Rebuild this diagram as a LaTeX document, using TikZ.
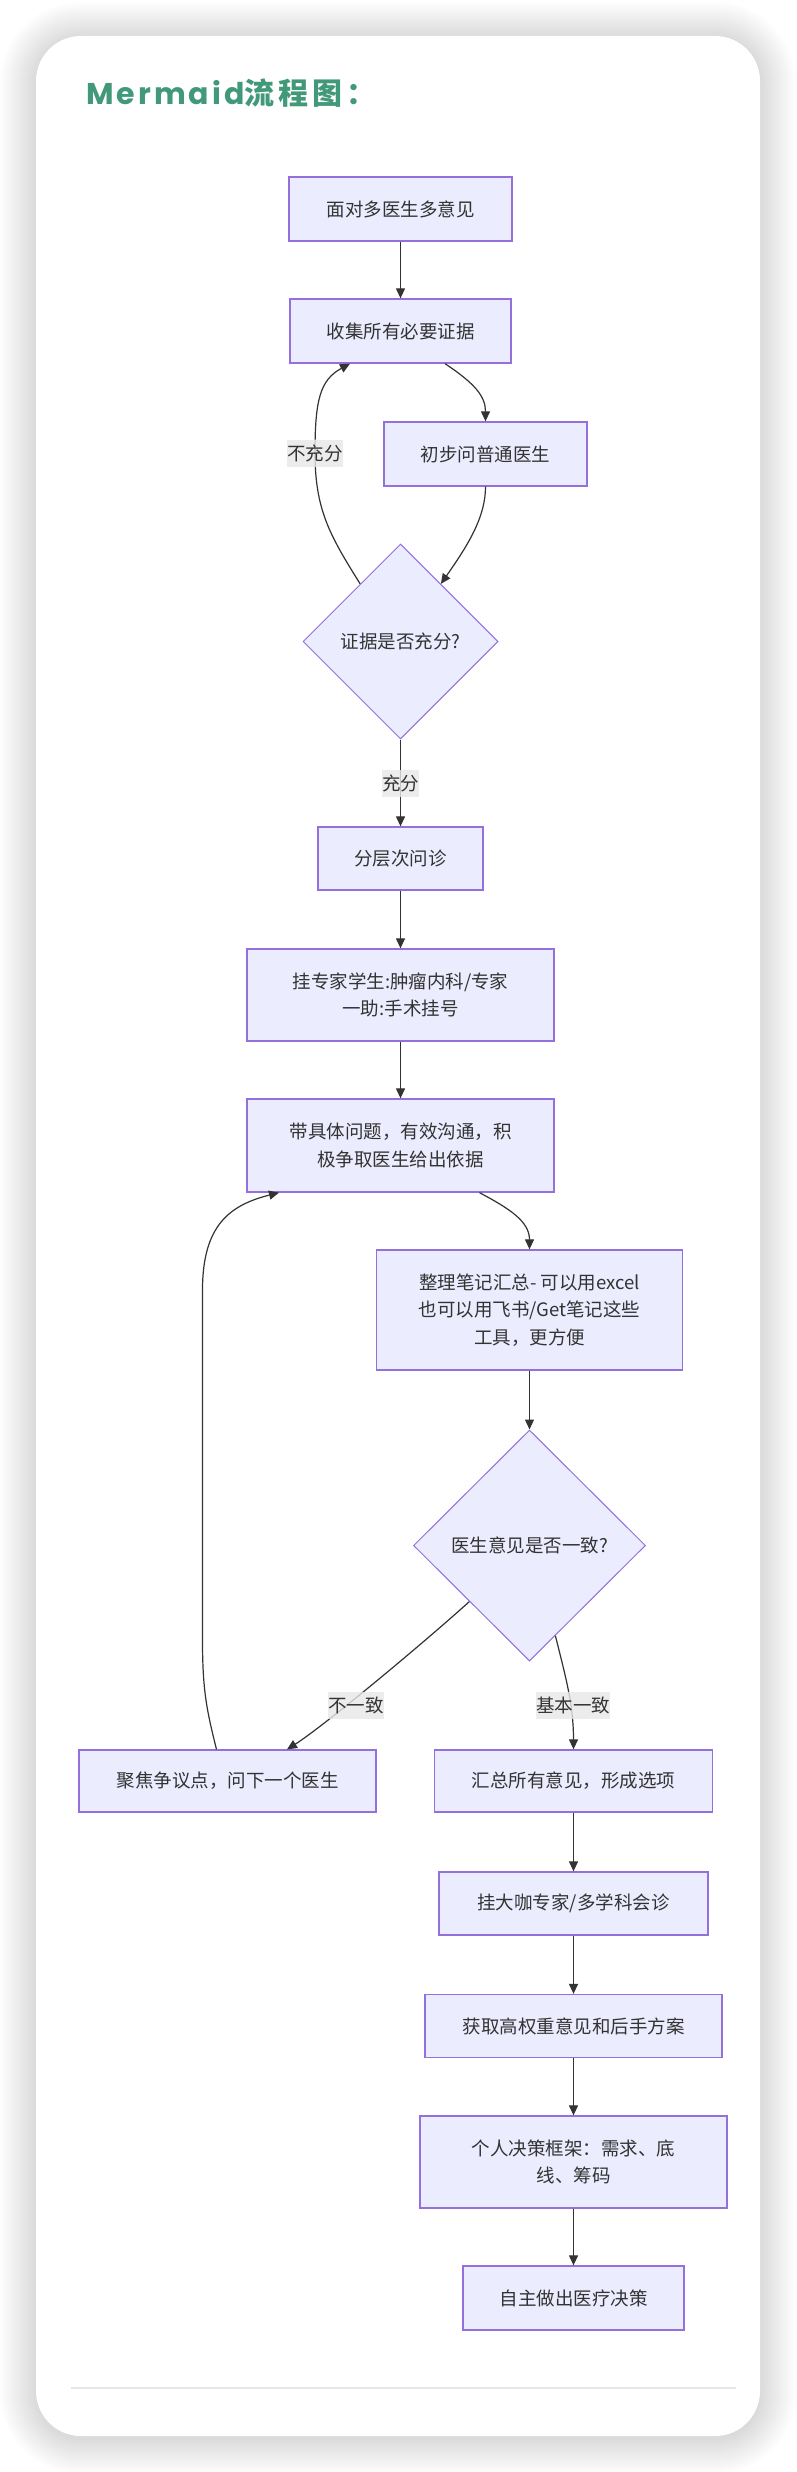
\documentclass[tikz,border=0pt]{standalone}
\usepackage{fontspec}
\setmainfont{Noto Sans CJK SC}
\newfontfamily\poppins{Poppins}
\usetikzlibrary{shapes.geometric, arrows.meta}
\definecolor{mfill}{HTML}{ECECFF}
\definecolor{mborder}{HTML}{9370DB}
\definecolor{mtext}{HTML}{333333}
\definecolor{medge}{HTML}{333333}
\definecolor{mlabel}{HTML}{E8E8E8}
\definecolor{mtitle}{RGB}{66,153,122}
\definecolor{mrule}{HTML}{E6E6E6}
\tikzset{
  box/.style={draw=mborder, fill=mfill, line width=1.3pt, text=mtext, align=center, inner sep=0pt, font=\fontsize{18.5}{27.7}\selectfont},
  dia/.style={box, diamond, aspect=1, line width=1pt},
  lbl/.style={fill=mlabel, fill opacity=0.8, text opacity=1, text=mtext, inner xsep=0pt, inner ysep=0pt, minimum height=27pt, font=\fontsize{18.5}{27.7}\selectfont},
  conn/.style={draw=medge, line width=1.2pt, -{Triangle[length=10pt,width=9pt]}},
}
\begin{document}
\begin{tikzpicture}[x=1pt, y=-1pt]
  \useasboundingbox (0,0) rectangle (796,2472);
  \fill[white] (0,0) rectangle (796,2472);
  % shadow
  \foreach \i in {1,...,18} {
    \pgfmathsetmacro\s{2*\i}
    \pgfmathsetmacro\r{45+2*\i}
    \fill[black, opacity=0.009, rounded corners={\r pt}] (36-\s, 36-\s+2) rectangle (760+\s, 2436+\s+2);
  }
  % card
  \fill[white, rounded corners=45pt] (36,36) rectangle (760,2436);
  \draw[mrule, line width=2pt] (71,2388) -- (736,2388);
  % title
  \node[anchor=base west, text=mtitle, font=\fontsize{30}{32}\selectfont\bfseries, inner sep=0pt] (title) at (86,105) {{\poppins\bfseries\addfontfeatures{LetterSpace=10}Mermaid}{\addfontfeatures{LetterSpace=14}流程图：}};
  % nodes
  \node[box, minimum width=223pt, minimum height=64pt] (n1) at (400.5,209) {面对多医生多意见};
  \node[box, minimum width=221pt, minimum height=64pt] (n2) at (400.5,331) {收集所有必要证据};
  \node[box, minimum width=203pt, minimum height=64pt] (n3) at (485.5,454) {初步问普通医生};
  \node[dia, minimum width=195pt, minimum height=195pt] (d1) at (400.5,641.5) {证据是否充分?};
  \node[box, minimum width=165pt, minimum height=63pt] (n4) at (400.5,858.5) {分层次问诊};
  \node[box, minimum width=307pt, minimum height=92pt] (n5) at (400.5,995) {挂专家学生:肿瘤内科/专家\\一助:手术挂号};
  \node[box, minimum width=307pt, minimum height=93pt] (n6) at (400.5,1145.5) {带具体问题，有效沟通，积\\极争取医生给出依据};
  \node[box, minimum width=306pt, minimum height=120pt] (n7) at (529.5,1310) {整理笔记汇总- 可以用excel\\也可以用飞书/Get笔记这些\\工具，更方便};
  \node[dia, minimum width=232pt, minimum height=231pt] (d2) at (529.5,1545.5) {医生意见是否一致?};
  \node[box, minimum width=297pt, minimum height=62pt] (n8) at (227.5,1781) {聚焦争议点，问下一个医生};
  \node[box, minimum width=278pt, minimum height=62pt] (n9) at (573.5,1781) {汇总所有意见，形成选项};
  \node[box, minimum width=269pt, minimum height=63pt] (n10) at (573.5,1903.5) {挂大咖专家/多学科会诊};
  \node[box, minimum width=297pt, minimum height=63pt] (n11) at (573.5,2026) {获取高权重意见和后手方案};
  \node[box, minimum width=307pt, minimum height=92pt] (n12) at (573.5,2162) {个人决策框架：需求、底\\线、筹码};
  \node[box, minimum width=221pt, minimum height=64pt] (n13) at (573.5,2298) {自主做出医疗决策};
  % edges
  \draw[conn] (n1) -- (n2);
  \draw[conn] ([xshift=44.5pt]n2.south) .. controls +(30,20) and +(0,-25) .. (n3.north);
  \draw[conn] (n3.south) .. controls +(0,30) and +(28,-40) .. (d1.55);
  \draw[conn] (d1.125) .. controls +(-30,-48) and (315,510) .. (315,453) .. controls (315,400) and (320,380) .. ([xshift=-50.5pt]n2.south);
  \draw[conn] (d1) -- (n4);
  \draw[conn] (n4) -- (n5);
  \draw[conn] (n5) -- (n6);
  \draw[conn] ([xshift=79pt]n6.south) .. controls +(30,16) and +(0,-28) .. (n7.north);
  \draw[conn] (n7) -- (d2);
  \draw[conn] (d2.223) .. controls +(-50,45) and +(35,-22) .. ([xshift=59.5pt]n8.north);
  \draw[conn] (d2.286) .. controls +(10,40) and +(0,-45) .. (n9.north);
  \draw[conn] ([xshift=-11pt]n8.north) .. controls +(-10,-40) and (202.5,1690) .. (202.5,1640) -- (202.5,1290) .. controls (202.5,1225) and (230,1205) .. ([xshift=-121.5pt]n6.south);
  \draw[conn] (n9) -- (n10);
  \draw[conn] (n10) -- (n11);
  \draw[conn] (n11) -- (n12);
  \draw[conn] (n12) -- (n13);
  % labels
  \node[lbl] (l1) at (315,453) {不充分};
  \node[lbl] (l2) at (400.5,783) {充分};
  \node[lbl] (l3) at (356,1705) {不一致};
  \node[lbl] (l4) at (573,1705) {基本一致};
\end{tikzpicture}
\end{document}
